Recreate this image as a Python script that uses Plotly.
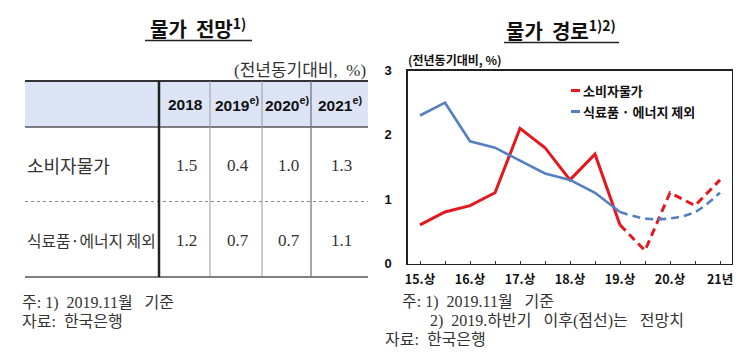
import plotly.graph_objects as go

# ---------------- data ----------------
periods = ["15.상", "15.하", "16.상", "16.하", "17.상", "17.하", "18.상", "18.하",
           "19.상", "19.하", "20.상", "20.하", "21년"]
labelled_periods = ["15.상", "16.상", "17.상", "18.상", "19.상", "20.상", "21년"]
cpi = [0.6, 0.8, 0.9, 1.1, 2.1, 1.8, 1.3, 1.7, 0.6, 0.2, 1.1, 0.9, 1.3]
core = [2.3, 2.5, 1.9, 1.8, 1.6, 1.4, 1.3, 1.1, 0.8, 0.7, 0.7, 0.8, 1.1]
forecast_start = 8  # index of 19.상; after this values are forecasts (dashed)
series_names = ["소비자물가", "식료품 · 에너지 제외"]
y_ticks = [0, 1, 2, 3]

table_years = ["2018", "2019", "2020", "2021"]
table_year_marks = ["", "e)", "e)", "e)"]
table_rows = ["소비자물가", "식료품·에너지 제외"]
table_cpi = [1.5, 0.4, 1.0, 1.3]
table_core = [1.2, 0.7, 0.7, 1.1]

W, H = 755, 361
RED = "#e5171f"
BLUE = "#5580c0"
KR = "Noto Sans CJK KR"
SERIF = "Liberation Serif, " + KR
SANS = "Liberation Sans"
NB = "\u00a0"

xidx = list(range(len(periods)))
tick_idx = [periods.index(p) for p in labelled_periods]


def px(x):
    return x / W


def py(y):
    return 1 - y / H


fig = go.Figure()

# ---------------- line chart ----------------
for vals, color, width, name in [(cpi, RED, 3, series_names[0]), (core, BLUE, 2.6, series_names[1])]:
    fig.add_trace(go.Scatter(
        x=xidx[:forecast_start + 1], y=vals[:forecast_start + 1], mode="lines",
        line=dict(color=color, width=width), name=name, showlegend=False,
        hoverinfo="skip"))
    fig.add_trace(go.Scatter(
        x=xidx[forecast_start:], y=vals[forecast_start:], mode="lines",
        line=dict(color=color, width=width, dash="8px,5px",
                  shape="spline" if color == BLUE else "linear"),
        name=name, showlegend=False, hoverinfo="skip"))

x0p, x1p = 407.5, 731.5
y0p, y1p = 263.5, 70.5

fig.update_layout(
    template="none",
    width=W, height=H,
    margin=dict(l=0, r=0, t=0, b=0, autoexpand=False),
    showlegend=False,
    paper_bgcolor="white", plot_bgcolor="white",
    font=dict(family=KR, color="#111"),
    xaxis=dict(
        domain=[px(x0p), px(x1p)],
        range=[-0.5, 12.46],
        tickmode="array", tickvals=tick_idx, ticktext=labelled_periods,
        ticks="inside", ticklen=3, tickcolor="#333", tickwidth=1,
        minor=dict(ticks="inside", ticklen=3, tickcolor="#333", tickwidth=1, dtick=1, tick0=0),
        showline=True, linecolor="#222", linewidth=1.2, mirror=True,
        showgrid=False, zeroline=False, automargin=False,
        tickfont=dict(family=KR, size=12.5, color="#111", weight="bold"),
        ticklabelstandoff=4,
    ),
    yaxis=dict(
        domain=[py(y0p), py(y1p)],
        range=[0, 3],
        tickmode="array", tickvals=y_ticks,
        ticks="", showline=True, linecolor="#222", linewidth=1.2, mirror=True,
        showgrid=False, zeroline=False, automargin=False,
        tickfont=dict(family=SANS, size=13, color="#111", weight="bold"),
        ticklabelstandoff=12,
    ),
)

shapes = []
ann = []


def text(t, x, y, size, family=KR, color="#111", anchor="left"):
    ann.append(dict(text=t, x=px(x), y=py(y), xref="paper", yref="paper",
                    showarrow=False, xanchor=anchor, yanchor="middle",
                    font=dict(family=family, size=size, color=color)))


def hline(x0, x1, y, color, width, dash="solid"):
    shapes.append(dict(type="line", xref="paper", yref="paper", x0=px(x0), x1=px(x1), y0=py(y), y1=py(y),
                       line=dict(color=color, width=width, dash=dash)))


def vline(x, y0, y1, color, width):
    shapes.append(dict(type="line", xref="paper", yref="paper", x0=px(x), x1=px(x), y0=py(y0), y1=py(y1),
                       line=dict(color=color, width=width)))


# chart title + underline
text("<b>물가" + NB * 2 + "경로<sup>1)2)</sup></b>", 561, 30, 20, anchor="center")
hline(504, 619, 42.5, "#222", 1.5)
# y unit
text("<b>(전년동기대비, %)</b>", 406, 60, 12)
# legend
for i, (name, color) in enumerate(zip(series_names, [RED, BLUE])):
    yy = 90.5 + i * 21
    hline(571, 580, yy, color, 3)
    text("<b>" + name + "</b>", 581, yy, 13)
# right footnotes
FN = 16
text("주:" + NB + "1)" + NB * 2 + "2019.11월" + NB * 3 + "기준", 400, 302, FN, SERIF, "#333")
text("2)" + NB * 2 + "2019.하반기" + NB * 3 + "이후(점선)는" + NB * 3 + "전망치", 428, 320.5, FN, SERIF, "#333")
text("자료:" + NB * 2 + "한국은행", 383, 339, FN, SERIF, "#333")

# ---------------- table ----------------
TL, TR = 25, 368
top, head_bot, sep, bot = 81, 127, 201.5, 277
col_edges = [159, 210, 262, 311, 368]

text("<b>물가" + NB * 2 + "전망<sup>1)</sup></b>", 198, 28, 20, anchor="center")
hline(145, 252, 40.5, "#222", 1.5)
text("(전년동기대비," + NB * 2 + "%)", 368, 70, 17, SERIF, "#333", anchor="right")

shapes.append(dict(type="rect", xref="paper", yref="paper", x0=px(TL), x1=px(TR), y0=py(top), y1=py(head_bot),
                   fillcolor="#dce4f6", line=dict(width=0), layer="below"))
hline(TL, TR, top, "#333", 2)
hline(TL, TR, head_bot, "#555", 1.5)
hline(TL, TR, sep, "#888", 1, "dot")
hline(TL, TR, bot, "#555", 1.5)
vline(col_edges[0], top, bot, "#222", 2.5)
vline(col_edges[1], top, bot, "#999", 1)
vline(col_edges[2], top, bot, "#999", 1)
vline(col_edges[3], top, bot, "#777", 1.3)

col_centers = [(col_edges[i] + col_edges[i + 1]) / 2 + 1 for i in range(4)]
for yr, mark, cx in zip(table_years, table_year_marks, col_centers):
    t = "<b>" + yr + (("<sup>" + mark + "</sup>") if mark else "") + "</b>"
    text(t, cx, 104, 15.5, SANS, "#111", anchor="center")

for label, vals, yy, fs in [(table_rows[0], table_cpi, 165, 18), (table_rows[1], table_core, 240, 15.8)]:
    text(label, 25, yy, fs, KR, "#333")
    for v, cx in zip(vals, col_centers):
        text(f"{v:.1f}", cx + 1, yy, 17, SERIF, "#333", anchor="center")

text("주:" + NB + "1)" + NB * 2 + "2019.11월" + NB * 3 + "기준", 20, 303, FN, SERIF, "#333")
text("자료:" + NB * 2 + "한국은행", 20, 321.5, FN, SERIF, "#333")

fig.update_layout(shapes=shapes, annotations=ann)
fig.write_html("out.html", config={"displayModeBar": False, "staticPlot": True},
               post_script="document.body.style.margin='0px';document.body.style.overflow='hidden';")
